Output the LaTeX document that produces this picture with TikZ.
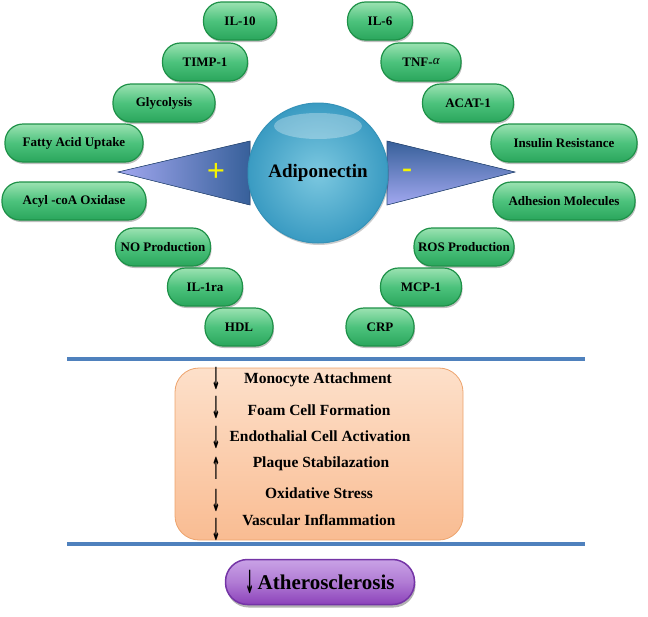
\documentclass[tikz,border=0pt]{standalone}
\usepackage{fontspec}
\usepackage{graphicx}
\setmainfont{Liberation Serif}
\newfontfamily\arrfont{DejaVu Sans}
\usetikzlibrary{shadows}
\definecolor{pillTop}{HTML}{9BE2B2}
\definecolor{pillMid}{HTML}{4CC27C}
\definecolor{pillBot}{HTML}{2AA65C}
\definecolor{pillLine}{HTML}{1E9148}
\definecolor{ballOut}{HTML}{3A9BC2}
\definecolor{ballIn}{HTML}{7CC8E0}
\definecolor{ballLine}{HTML}{3592B8}
\definecolor{triDark}{HTML}{37609A}
\definecolor{triLight}{HTML}{A2A8F0}
\definecolor{sepBlue}{HTML}{4F81BD}
\definecolor{boxTop}{HTML}{FDE0CA}
\definecolor{boxBot}{HTML}{F9BC92}
\definecolor{boxLine}{HTML}{EDA36C}
\definecolor{purTop}{HTML}{C9A2E6}
\definecolor{purBot}{HTML}{8C42BA}
\definecolor{purLine}{HTML}{7434A6}
\definecolor{signYel}{HTML}{F5F500}
\newcommand{\tallarrow}[1]{\scalebox{0.5}[1.45]{\arrfont\bfseries #1}}
\tikzset{
  pill/.style={rectangle, rounded corners=18pt, minimum height=38pt, inner sep=0pt,
    draw=pillLine, line width=1.2pt, top color=pillTop, bottom color=pillBot, middle color=pillMid,
    font=\fontsize{13}{15}\selectfont\bfseries,
    drop shadow={shadow xshift=1pt, shadow yshift=-2pt, opacity=0.25, fill=black}},
  tri/.style={draw=triDark!80!black, line width=0.6pt},
  sign/.style={text=signYel, inner sep=0pt},
  effect/.style={font=\fontsize{15.5}{17}\selectfont\bfseries, inner sep=0pt},
  arr/.style={font=\fontsize{21}{21}\selectfont, inner sep=0pt},
  sepline/.style={draw=sepBlue, line width=4pt}
}
\begin{document}
\begin{tikzpicture}[x=1pt,y=-1pt]
\useasboundingbox (0,0) rectangle (648,616);
% triangles
\coordinate (lt) at (118,172);
\coordinate (lb1) at (250,141);
\coordinate (lb2) at (250,205);
\coordinate (rt) at (515,172);
\coordinate (rb1) at (387,141);
\coordinate (rb2) at (387,205);
\fill[left color=triLight, right color=triDark] (lt) -- (lb1) -- (lb2) -- cycle;
\draw[tri] (lt) -- (lb1) -- (lb2) -- cycle;
\fill[top color=triDark, bottom color=triLight] (rb1) -- (rt) -- (rb2) -- cycle;
\draw[tri] (rb1) -- (rt) -- (rb2) -- cycle;
\node[sign, font=\fontsize{32}{32}\selectfont\bfseries] (plus) at (216,172) {+};
\node[sign, font=\fontsize{30}{30}\selectfont\bfseries] (minus) at (407,173) {-};
% central ball
\node[circle, minimum size=140pt, inner sep=0pt, draw=ballLine, line width=1pt,
  inner color=ballIn, outer color=ballOut,
  drop shadow={shadow xshift=1pt, shadow yshift=-2pt, opacity=0.2, fill=black}] (adipo) at (318,173) {};
\fill[white, opacity=0.3] (318,126) ellipse [x radius=44pt, y radius=13pt];
\node[font=\fontsize{19}{21}\selectfont\bfseries] (adipotext) at (318,173) {Adiponectin};
% left pills
\node[pill, minimum width=73pt] (il10) at (240,21) {IL-10};
\node[pill, minimum width=85pt] (timp) at (205,62) {TIMP-1};
\node[pill, minimum width=102pt] (glyc) at (164,103) {Glycolysis};
\node[pill, minimum width=138pt] (fau) at (74,143) {Fatty Acid Uptake};
\node[pill, minimum width=144pt] (aco) at (74,201) {Acyl -coA Oxidase};
\node[pill, minimum width=95pt] (nop) at (163,247) {NO Production};
\node[pill, minimum width=75pt] (il1ra) at (205,287) {IL-1ra};
\node[pill, minimum width=68pt] (hdl) at (239,327) {HDL};
% right pills
\node[pill, minimum width=65pt] (il6) at (380,21) {IL-6};
\node[pill, minimum width=80pt] (tnf) at (421,62) {TNF-\raisebox{2pt}{\normalfont\itshape α}};
\node[pill, minimum width=91pt] (acat) at (468,103) {ACAT-1};
\node[pill, minimum width=146pt] (ins) at (564,143) {Insulin Resistance};
\node[pill, minimum width=142pt] (adh) at (564,201) {Adhesion Molecules};
\node[pill, minimum width=100pt] (ros) at (464,247) {ROS Production};
\node[pill, minimum width=81pt] (mcp) at (421,287) {MCP-1};
\node[pill, minimum width=68pt] (crp) at (380,327) {CRP};
% separators
\coordinate (s1a) at (67,359); \coordinate (s1b) at (585,359);
\coordinate (s2a) at (67,544); \coordinate (s2b) at (585,544);
\draw[sepline] (s1a) -- (s1b);
\draw[sepline] (s2a) -- (s2b);
% effects box
\node[rectangle, rounded corners=24pt, minimum width=288pt, minimum height=172pt,
  draw=boxLine, line width=0.8pt, top color=boxTop, bottom color=boxBot] (effbox) at (319,454) {};
\node[effect] (e1) at (318,380) {Monocyte Attachment};
\node[effect] (e2) at (319,410) {Foam Cell Formation};
\node[effect] (e3) at (320,436) {Endothalial Cell Activation};
\node[effect] (e4) at (321,464) {Plaque Stabilazation};
\node[effect] (e5) at (319,493) {Oxidative Stress};
\node[effect] (e6) at (319,520) {Vascular Inflammation};
\node[arr] (a1) at (216,378) {\tallarrow{↓}};
\node[arr] (a2) at (216,407) {\tallarrow{↓}};
\node[arr] (a3) at (216,437) {\tallarrow{↓}};
\node[arr] (a4) at (216,468) {\tallarrow{↑}};
\node[arr] (a5) at (216,500) {\tallarrow{↓}};
\node[arr] (a6) at (216,529) {\tallarrow{↓}};
% outcome
\node[rectangle, rounded corners=22pt, minimum width=189pt, minimum height=45pt, inner sep=0pt,
  draw=purLine, line width=1.5pt, top color=purTop, bottom color=purBot, middle color=purTop!60!purBot,
  drop shadow={shadow xshift=1pt, shadow yshift=-3pt, opacity=0.3, fill=black},
  font=\fontsize{21}{23}\selectfont\bfseries] (ath) at (320,582)
  {\raisebox{-4pt}{\fontsize{22}{22}\selectfont\tallarrow{↓}}\kern3pt Atherosclerosis};
\end{tikzpicture}
\end{document}
